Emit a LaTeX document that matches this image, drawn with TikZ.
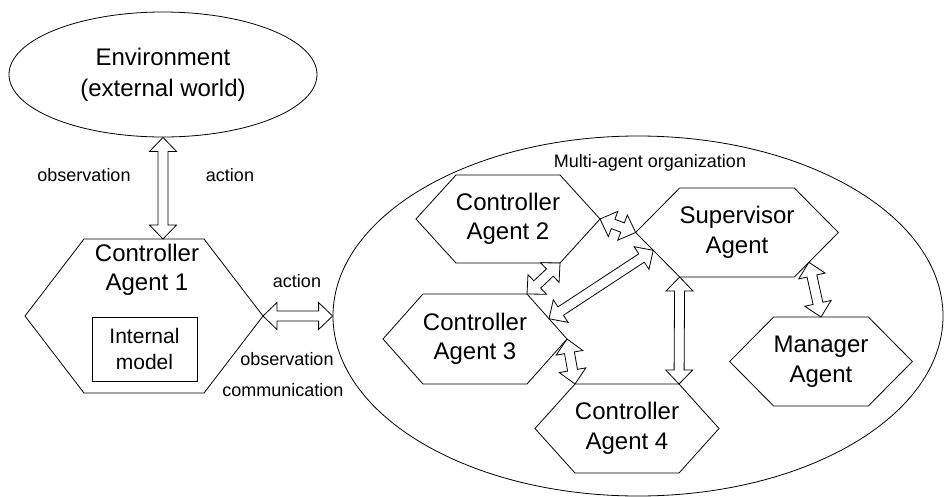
\documentclass[tikz,border=0pt]{standalone}
\usepackage{fontspec}
\setmainfont{Liberation Sans}
\usetikzlibrary{shapes.geometric, calc}

% hexagon round a body node, #2 = how far the side points stick out
\newcommand{\hexagent}[2]{%
  \draw (#1.north west) -- (#1.north east) -- ([xshift=#2]#1.east) coordinate (#1-r)
    -- (#1.south east) -- (#1.south west) -- ([xshift=-#2]#1.west) coordinate (#1-l) -- cycle;}

% hollow two-headed arrow from #1 to #2
\newcommand{\dblarrow}[2]{%
  \draw[fatarrow] (#1)
    -- ($(#1)!14pt!(#2)!13.5pt!90:(#2)$)
    -- ($(#1)!14pt!(#2)!5pt!90:(#2)$)
    -- ($(#2)!14pt!(#1)!5pt!-90:(#1)$)
    -- ($(#2)!14pt!(#1)!13.5pt!-90:(#1)$)
    -- (#2)
    -- ($(#2)!14pt!(#1)!13.5pt!90:(#1)$)
    -- ($(#2)!14pt!(#1)!5pt!90:(#1)$)
    -- ($(#1)!14pt!(#2)!5pt!-90:(#2)$)
    -- ($(#1)!14pt!(#2)!13.5pt!-90:(#2)$)
    -- cycle;}

\begin{document}
\begin{tikzpicture}[
        x=1pt, y=-1pt, line width=0.8pt,
        agent/.style={rectangle, inner sep=0pt, outer sep=0pt, minimum width=80pt, minimum height=89pt, align=center, font=\fontsize{24}{29.5}\selectfont},
        world/.style={ellipse, draw, align=center, font=\fontsize{24}{31}\selectfont},
        inner/.style={rectangle, draw, minimum width=105pt, minimum height=64pt, align=center, font=\fontsize{21}{26}\selectfont},
        lbl/.style={font=\fontsize{18}{22}\selectfont},
        fatarrow/.style={draw, fill=white, line join=miter}
    ]
        \useasboundingbox (0,0) rectangle (946,496);

        % Nodes
        \node (env) at (163, 74.5) [world, minimum width=308pt, minimum height=125pt] {Environment\\(external world)};
        \node (org) at (638, 316) [ellipse, draw, minimum width=610pt, minimum height=360pt] {};
        \node (orglbl) at (650, 163) [lbl] {Multi-agent organization};

        \node (ca1) at (144, 316) [agent, minimum width=120pt, minimum height=154pt] {};
        \node (ca1txt) at (147, 270) [agent, minimum height=0pt] {Controller\\Agent 1};
        \node (model) at (144.5, 349) [inner] {Internal\\model};

        \node (ca2) at (508, 219) [agent, minimum height=88pt] {Controller\\Agent 2};
        \node (sup) at (737, 232.5) [agent, minimum width=88pt] {Supervisor\\Agent};
        \node (ca3) at (475, 339) [agent, minimum height=90pt] {Controller\\Agent 3};
        \node (ca4) at (627, 428.5) [agent] {Controller\\Agent 4};
        \node (mgr) at (821, 361.5) [agent, minimum width=90pt] {Manager\\Agent};

        \hexagent{ca1}{59pt}
        \hexagent{ca2}{40pt}
        \hexagent{sup}{44pt}
        \hexagent{ca3}{40pt}
        \hexagent{ca4}{40pt}
        \hexagent{mgr}{44pt}

        \node (obs1) at (84, 175) [lbl] {observation};
        \node (act1) at (230, 175) [lbl] {action};
        \node (act2) at (297, 281) [lbl] {action};
        \node (obs2) at (287, 359) [lbl] {observation};
        \node (comm) at (283, 390) [lbl] {communication};

        % Arrows
        \coordinate (ca1top) at (env.south |- ca1.north);
        \coordinate (ca3edge) at ($(ca3.north east)!0.55!(ca3-r)$);
        \coordinate (supedge1) at ($(sup-l)!0.4!(sup.south west)$);
        \coordinate (supedge2) at ($(sup.south east)!0.33!(sup-r)$);

        \dblarrow{env.south}{ca1top}
        \dblarrow{ca1-r}{org.west}
        \dblarrow{ca2-r}{sup-l}
        \dblarrow{ca2.south east}{ca3.north east}
        \dblarrow{ca3edge}{supedge1}
        \dblarrow{ca3-r}{ca4.north west}
        \dblarrow{sup.south west}{ca4.north east}
        \dblarrow{supedge2}{mgr.north}

    \end{tikzpicture}
\end{document}
